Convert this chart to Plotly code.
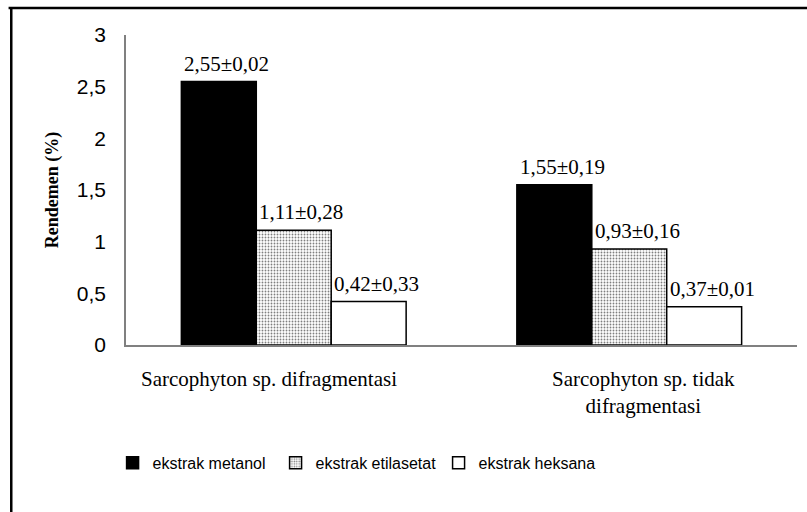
import plotly.graph_objects as go

categories = ["Sarcophyton sp. difragmentasi", "Sarcophyton sp. tidak<br>difragmentasi"]
series_names = ["ekstrak metanol", "ekstrak etilasetat", "ekstrak heksana"]
metanol = [2.55, 1.55]
etilasetat = [1.11, 0.93]
heksana = [0.42, 0.37]
sd_metanol = [0.02, 0.19]
sd_etilasetat = [0.28, 0.16]
sd_heksana = [0.33, 0.01]
y_ticks = [0, 0.5, 1, 1.5, 2, 2.5, 3]
y_tick_labels = ["0", "0,5", "1", "1,5", "2", "2,5", "3"]

values = [metanol, etilasetat, heksana]
sds = [sd_metanol, sd_etilasetat, sd_heksana]

def fmt(v):
    return f"{v:.2f}".replace(".", ",")

fig = go.Figure()
styles = [
    dict(color="black", line=dict(color="black", width=1.5)),
    dict(color="white", line=dict(color="black", width=1.5),
         pattern=dict(shape=".", fgcolor="#000000", bgcolor="white", size=3, solidity=0.3)),
    dict(color="white", line=dict(color="black", width=1.5)),
]
for name, vals, st in zip(series_names, values, styles):
    fig.add_trace(go.Bar(x=categories, y=vals, name=name, marker=st))

bargap = 0.33
ngroups = 3
bw = (1 - bargap) / ngroups
for i, (vals, sd) in enumerate(zip(values, sds)):
    for j, (v, s) in enumerate(zip(vals, sd)):
        left = j - (1 - bargap) / 2 + i * bw
        fig.add_annotation(x=left, y=v, xref="x", yref="y", text=f"{fmt(v)}±{fmt(s)}",
                           showarrow=False, xanchor="left", yanchor="bottom", xshift=1, yshift=4,
                           font=dict(family="Liberation Serif", size=21, color="black"))

# category labels (drawn as annotations to match the original placement)
label_shift = [-25, 14]
for j, (cat, sh) in enumerate(zip(categories, label_shift)):
    fig.add_annotation(x=j, y=0, xref="x", yref="y", text=cat, showarrow=False,
                       xanchor="center", yanchor="top", xshift=sh, yshift=-20,
                       font=dict(family="Liberation Serif", size=21, color="black"))

fig.update_layout(
    width=807, height=512,
    margin=dict(l=126, r=10, t=35, b=167),
    paper_bgcolor="white", plot_bgcolor="white",
    barmode="group", bargap=bargap, bargroupgap=0,
    showlegend=True,
    legend=dict(orientation="h", x=-0.02, xanchor="left", y=-0.38, yanchor="middle",
                font=dict(family="Liberation Sans", size=16, color="black"),
                entrywidth=118, entrywidthmode="pixels", itemwidth=30, traceorder="normal"),
    font=dict(color="black"),
    shapes=[
        dict(type="line", xref="paper", yref="paper", x0=-0.175, x1=1.02, y0=1.087, y1=1.087,
             line=dict(color="black", width=2.5)),
        dict(type="line", xref="paper", yref="paper", x0=-0.171, x1=-0.171, y0=1.09, y1=-0.54,
             line=dict(color="black", width=2.5)),
    ],
)
fig.update_xaxes(showline=True, linecolor="#808080", linewidth=1.5, ticks="",
                 showticklabels=False, automargin=False,
                 showgrid=False, zeroline=False)
fig.update_yaxes(range=[0, 3], tickvals=y_ticks, ticktext=y_tick_labels,
                 showline=True, linecolor="#808080", linewidth=1.5, ticks="",
                 tickfont=dict(family="Liberation Sans", size=21, color="black"),
                 ticklabelstandoff=14, showgrid=False, zeroline=False, automargin=False,
                 title=dict(text="<b>Rendemen (%)</b>", standoff=14,
                            font=dict(family="Liberation Serif", size=18, color="black")))

fig.write_html("out.html", config={"displayModeBar": False},
               post_script="document.body.style.margin='0';")
